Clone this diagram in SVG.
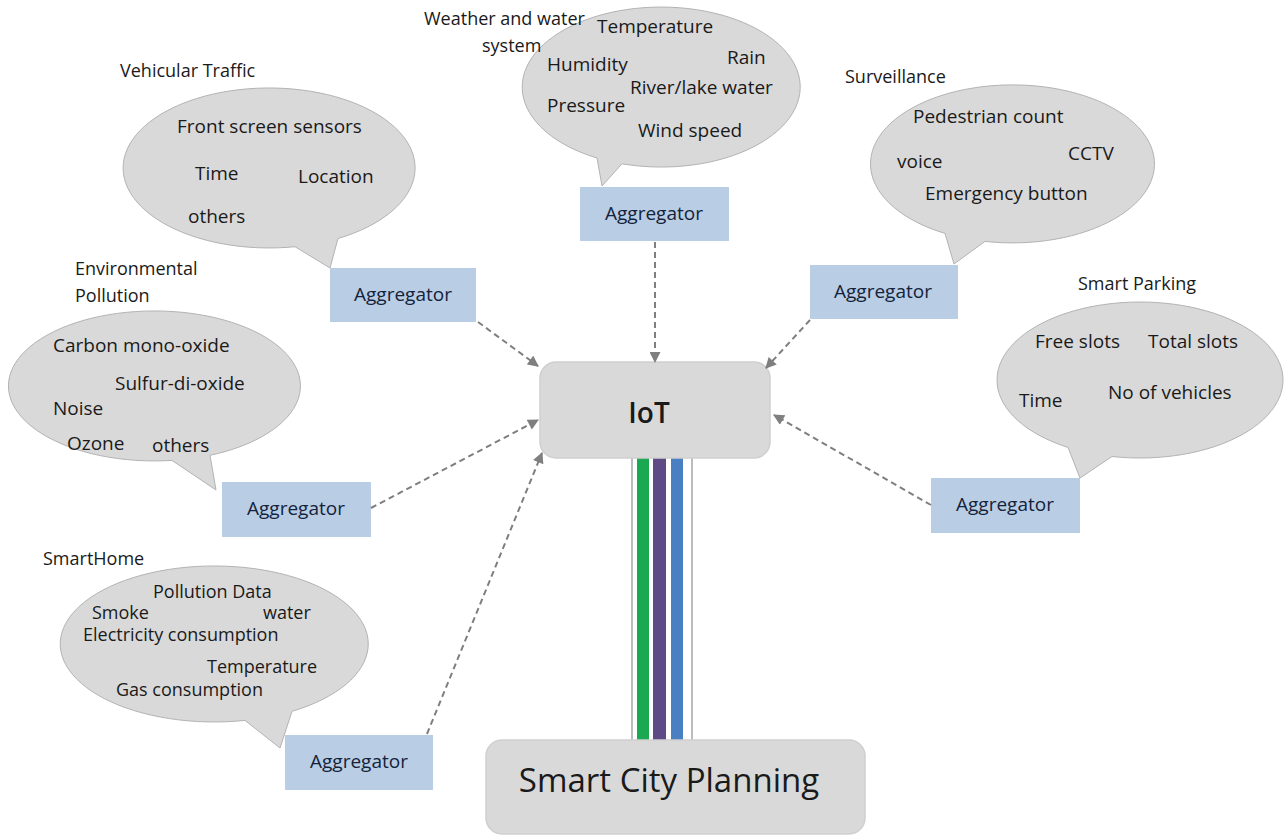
<svg xmlns="http://www.w3.org/2000/svg" width="1285" height="836" viewBox="0 0 1285 836">
<defs>
<style>
text{font-family:"Open Sans","Liberation Sans",sans-serif;fill:#1a1a1a;font-size:19px}
text.lbl{font-size:18px}
text.sm{font-size:18px}
text.iot{font-size:28px;font-weight:600;text-anchor:middle}
text.scp{font-size:33px;text-anchor:middle}
.agg rect{fill:#b9cde5}
.agg text{fill:#14233a;font-size:19px;text-anchor:middle}
.bubble{fill:#d9d9d9;stroke:#b3b3b3;stroke-width:1}
.box{fill:#d9d9d9;stroke:#cfcfcf;stroke-width:1.5}
.conn{fill:none;stroke:#7f7f7f;stroke-width:2;stroke-dasharray:6 4}
</style>
<marker id="arr" viewBox="0 0 10 10" refX="9" refY="5" markerWidth="6" markerHeight="5.5" orient="auto" markerUnits="strokeWidth">
<path d="M0,0 L10,5 L0,10 Z" fill="#7f7f7f"/>
</marker>
</defs>
<rect width="1285" height="836" fill="#ffffff"/>

<g id="bus">
<rect x="632" y="456" width="60" height="286" fill="#ffffff" stroke="#a6a6a6" stroke-width="1.5"/>
<rect x="637" y="456" width="12" height="286" fill="#1aa852"/>
<rect x="653" y="456" width="13" height="286" fill="#5e4a85"/>
<rect x="671" y="456" width="12" height="286" fill="#4a7fc2"/>
</g>

<g id="iot">
<rect class="box" x="540" y="362" width="230" height="96" rx="16"/>
<text class="iot" x="649" y="423">IoT</text>
</g>

<g id="smart-city-planning">
<rect class="box" x="486" y="740" width="379" height="94" rx="16"/>
<text class="scp" x="669" y="792">Smart City Planning</text>
</g>

<g id="vehicular-traffic">
<path class="bubble" d="M295,246.7 A146,80 0 1 1 338,238.5 L330,268 Z"/>
<text class="lbl" x="120" y="77">Vehicular Traffic</text>
<text x="177" y="133">Front screen sensors</text>
<text x="195" y="180">Time</text>
<text x="298" y="183">Location</text>
<text x="188" y="223">others</text>
</g>
<g id="agg-vehicular" class="agg">
<rect x="330" y="268" width="146" height="54"/>
<text x="403" y="301">Aggregator</text>
</g>

<g id="weather">
<path class="bubble" d="M597,158 A139,80 0 1 1 622,163.8 L602,186 Z"/>
<text class="lbl" x="424" y="25">Weather and water</text>
<text class="lbl" x="482" y="52">system</text>
<text x="597" y="33">Temperature</text>
<text x="727" y="64">Rain</text>
<text x="547" y="71">Humidity</text>
<text x="630" y="94">River/lake water</text>
<text x="547" y="112">Pressure</text>
<text x="638" y="137">Wind speed</text>
</g>
<g id="agg-weather" class="agg">
<rect x="580" y="187" width="149" height="54"/>
<text x="654" y="220">Aggregator</text>
</g>

<g id="surveillance">
<path class="bubble" d="M945,233.4 A142,79 0 1 1 985,241.4 L954,264 Z"/>
<text class="lbl" x="845" y="83">Surveillance</text>
<text x="913" y="123">Pedestrian count</text>
<text x="897" y="168">voice</text>
<text x="1068" y="160">CCTV</text>
<text x="925" y="200">Emergency button</text>
</g>
<g id="agg-surveillance" class="agg">
<rect x="810" y="265" width="148" height="54"/>
<text x="883" y="298">Aggregator</text>
</g>

<g id="environmental-pollution">
<path class="bubble" d="M172,460.4 A146,75 0 1 1 210,455.3 L216,490 Z"/>
<text class="lbl" x="75" y="275">Environmental</text>
<text class="lbl" x="75" y="302">Pollution</text>
<text x="53" y="352">Carbon mono-oxide</text>
<text x="115" y="390">Sulfur-di-oxide</text>
<text x="53" y="415">Noise</text>
<text x="67" y="450">Ozone</text>
<text x="152" y="452">others</text>
</g>
<g id="agg-environmental" class="agg">
<rect x="222" y="482" width="149" height="55"/>
<text x="296" y="515">Aggregator</text>
</g>

<g id="smarthome">
<path class="bubble" d="M245,720.4 A154,78 0 1 1 292,711.3 L280,748 Z"/>
<text class="lbl" x="43" y="565">SmartHome</text>
<text class="sm" x="153" y="598">Pollution Data</text>
<text class="sm" x="92" y="619">Smoke</text>
<text class="sm" x="263" y="619">water</text>
<text class="sm" x="83" y="641">Electricity consumption</text>
<text class="sm" x="207" y="673">Temperature</text>
<text class="sm" x="116" y="696">Gas consumption</text>
</g>
<g id="agg-smarthome" class="agg">
<rect x="285" y="735" width="148" height="55"/>
<text x="359" y="768">Aggregator</text>
</g>

<g id="smart-parking">
<path class="bubble" d="M1068,447.4 A143,78 0 1 1 1112,456.5 L1080,478 Z"/>
<text class="lbl" x="1078" y="290">Smart Parking</text>
<text x="1035" y="348">Free slots</text>
<text x="1148" y="348">Total slots</text>
<text x="1019" y="407">Time</text>
<text x="1108" y="399">No of vehicles</text>
</g>
<g id="agg-parking" class="agg">
<rect x="931" y="478" width="149" height="55"/>
<text x="1005" y="511">Aggregator</text>
</g>

<g id="connectors">
<line class="conn" x1="478" y1="322" x2="538" y2="366" marker-end="url(#arr)"/>
<line class="conn" x1="655" y1="242" x2="655" y2="362" marker-end="url(#arr)"/>
<line class="conn" x1="810" y1="320" x2="766" y2="368" marker-end="url(#arr)"/>
<line class="conn" x1="371" y1="508" x2="538" y2="420" marker-end="url(#arr)"/>
<line class="conn" x1="427" y1="734" x2="542" y2="453" marker-end="url(#arr)"/>
<line class="conn" x1="931" y1="505" x2="774" y2="415" marker-end="url(#arr)"/>
</g>
</svg>
